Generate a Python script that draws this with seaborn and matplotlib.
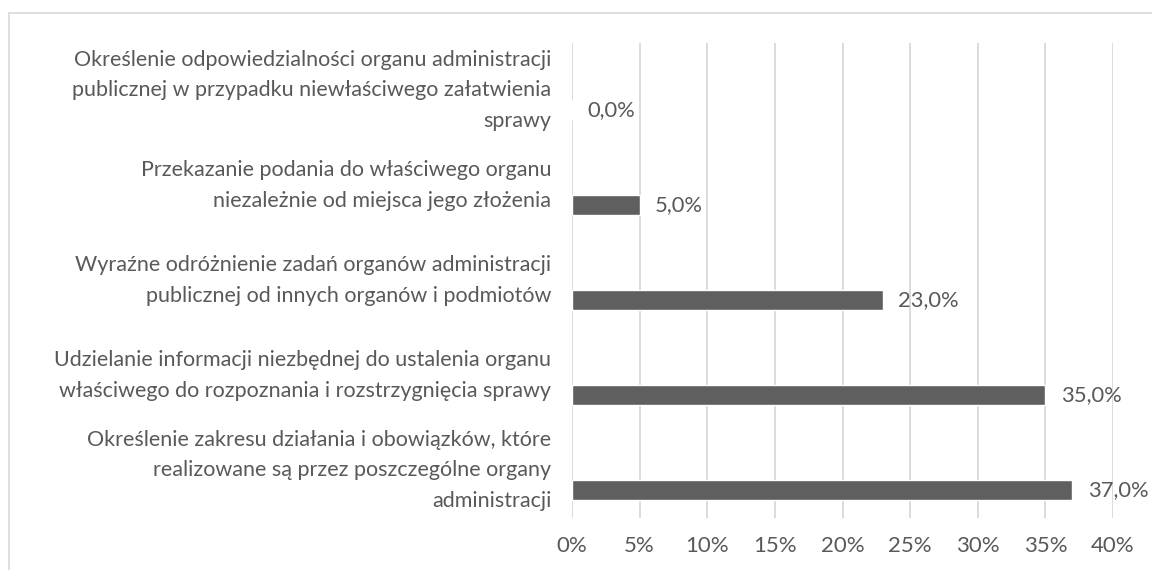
import matplotlib
matplotlib.use("Agg")
import matplotlib.pyplot as plt
import seaborn as sns
import pandas as pd
from matplotlib.patches import Rectangle

categories = [
    "Określenie odpowiedzialności organu administracji\npublicznej w przypadku niewłaściwego załatwienia\nsprawy",
    "Przekazanie podania do właściwego organu\nniezależnie od miejsca jego złożenia",
    "Wyraźne odróżnienie zadań organów administracji\npublicznej od innych organów i podmiotów",
    "Udzielanie informacji niezbędnej do ustalenia organu\nwłaściwego do rozpoznania i rozstrzygnięcia sprawy",
    "Określenie zakresu działania i obowiązków, które\nrealizowane są przez poszczególne organy\nadministracji",
]
values = [0.0, 5.0, 23.0, 35.0, 37.0]
x_ticks = [0, 5, 10, 15, 20, 25, 30, 35, 40]
x_tick_labels = ["0%", "5%", "10%", "15%", "20%", "25%", "30%", "35%", "40%"]

sns.set_theme(style="white")
plt.rcParams["font.family"] = ["Lato", "DejaVu Sans"]

TEXT = "#595959"
df = pd.DataFrame({"cat": categories, "val": values, "series": ["s"] * len(values)})

fig = plt.figure(figsize=(11.52, 5.70), dpi=100)
ax = fig.add_axes([572 / 1152, 1 - 518 / 570, (1113 - 572) / 1152, (518 - 43) / 570])

sns.barplot(data=df, y="cat", x="val", hue="series", hue_order=["_a", "_b", "s"],
            palette={"_a": "#5f5f5f", "_b": "#5f5f5f", "s": "#5f5f5f"},
            orient="h", dodge=True, width=0.63, legend=False, ax=ax, errorbar=None)

for c in ax.containers:
    ax.bar_label(c, labels=[f"{v:.1f}%".replace(".", ",") for v in c.datavalues],
                 padding=11, fontsize=15.8, color=TEXT)

ax.set_xlim(0, 40)
ax.set_ylim(4.5, -0.5)
ax.set_xticks(x_ticks)
ax.set_xticklabels(x_tick_labels, fontsize=16, color=TEXT)
ax.set_yticks(range(len(categories)))
ax.set_yticklabels(categories, fontsize=15.5, color=TEXT, linespacing=1.65, va="center")
ax.tick_params(axis="y", length=0, pad=15)
ax.tick_params(axis="x", length=0, pad=13)
ax.set_xlabel("")
ax.set_ylabel("")
ax.grid(axis="x", color="#d9d9d9", linewidth=1.3)
ax.set_axisbelow(True)
for s in ax.spines.values():
    s.set_visible(False)

fig.patches.append(Rectangle((9 / 1152, -0.1), 1.2, 1 - 13 / 570 + 0.1,
                             transform=fig.transFigure, fill=False,
                             edgecolor="#d9d9d9", linewidth=1.2, zorder=0))

fig.savefig("out.png", dpi=100)
